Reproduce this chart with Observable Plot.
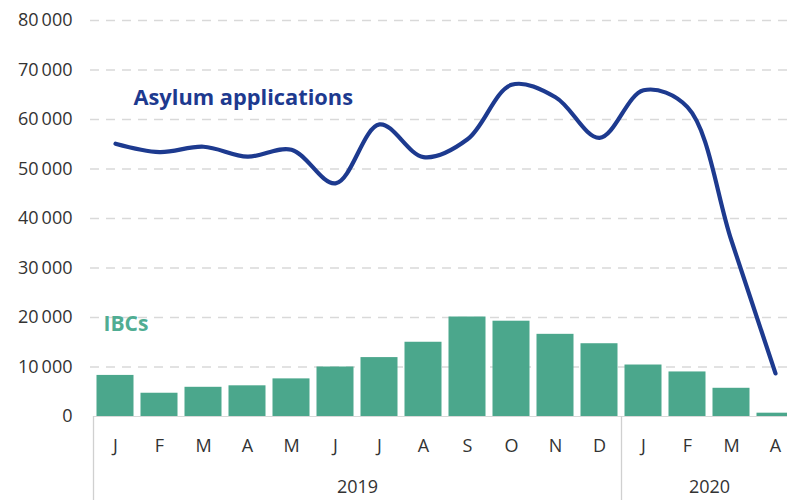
<!DOCTYPE html>
<html>
<head>
<meta charset="utf-8">
<script src="https://cdn.jsdelivr.net/npm/d3@7"></script>
<script src="https://cdn.jsdelivr.net/npm/@observablehq/plot@0.6"></script>
<style>
  html, body { margin: 0; padding: 0; background: #fff; overflow: hidden; }
  #chart svg { display: block; }
</style>
</head>
<body>
<div id="chart"></div>
<script>
const monthLetters = ["J","F","M","A","M","J","J","A","S","O","N","D","J","F","M","A"];
const years = ["2019","2019","2019","2019","2019","2019","2019","2019","2019","2019","2019","2019","2020","2020","2020","2020"];
const asylumApplications = [55100, 53400, 54500, 52500, 53900, 47100, 59000, 52400, 56000, 67000, 64500, 56300, 65900, 62500, 35500, 8700];
const ibcs = [8300, 4700, 5900, 6200, 7600, 10000, 11900, 15000, 20100, 19250, 16600, 14700, 10400, 9000, 5700, 670];
const yTicks = [0, 10000, 20000, 30000, 40000, 50000, 60000, 70000, 80000];
const yearGroups = [
  {year: "2019", first: 0, last: 11},
  {year: "2020", first: 12, last: 15}
];

const data = monthLetters.map((m, i) => ({i, m, year: years[i], asylum: asylumApplications[i], ibc: ibcs[i]}));
const separators = [-0.5, ...yearGroups.map(g => g.last + 0.5)];

const fmt = v => d3.format(",")(v).replace(/,/g, "\u2009");
const green = "#4ba78c";
const navy = "#1d3a8f";
const textColor = "#333333";
const font = "'Open Sans', sans-serif";

const chart = Plot.plot({
  width: 787,
  height: 500,
  marginLeft: 93,
  marginRight: -10,
  marginTop: 20,
  marginBottom: 84,
  style: {fontFamily: font, fontSize: "18px", color: textColor, background: "#fff"},
  x: {domain: [-0.5, 15.5], axis: null, label: null},
  y: {domain: [0, 80000], axis: null, label: null},
  marks: [
    Plot.gridY(yTicks.filter(t => t > 0), {stroke: "#d9d9d9", strokeOpacity: 1, strokeWidth: 1.3, strokeDasharray: "9,7", insetLeft: -3}),
    Plot.ruleY([0], {stroke: "#d9d9d9"}),
    Plot.rectY(data, {x1: d => d.i - 0.5, x2: d => d.i + 0.5, y: "ibc", fill: green, insetLeft: 3.5, insetRight: 3.5}),
    Plot.line(data, {x: "i", y: "asylum", stroke: navy, strokeWidth: 4.2, curve: "catmull-rom"}),
    Plot.axisY({ticks: yTicks, tickSize: 0, tickPadding: 21, tickFormat: fmt, fontSize: 18, fill: textColor, label: null}),
    Plot.axisX({ticks: d3.range(monthLetters.length), tickSize: 0, tickPadding: 23, tickFormat: i => monthLetters[i], fontSize: 18, fill: textColor, label: null}),
    Plot.ruleX(separators, {x: d => d, y1: 0, y2: 0, insetBottom: -84, stroke: "#d0d0d0", strokeWidth: 1.3}),
    Plot.text(yearGroups, {x: g => (g.first + g.last) / 2, y: 0, text: "year", dy: 64, lineAnchor: "top", fontSize: 18, fill: textColor}),
    Plot.text(["Asylum applications"], {x: 0, y: 64400, text: d => d, textAnchor: "start", dx: 18, fontSize: 21.8, fontWeight: 700, fill: navy}),
    Plot.text(["IBCs"], {x: 0, y: 18600, text: d => d, textAnchor: "start", dx: -12, fontSize: 21, fontWeight: 700, fill: "#50ad93"})
  ]
});
document.getElementById("chart").appendChild(chart);
</script>
</body>
</html>
